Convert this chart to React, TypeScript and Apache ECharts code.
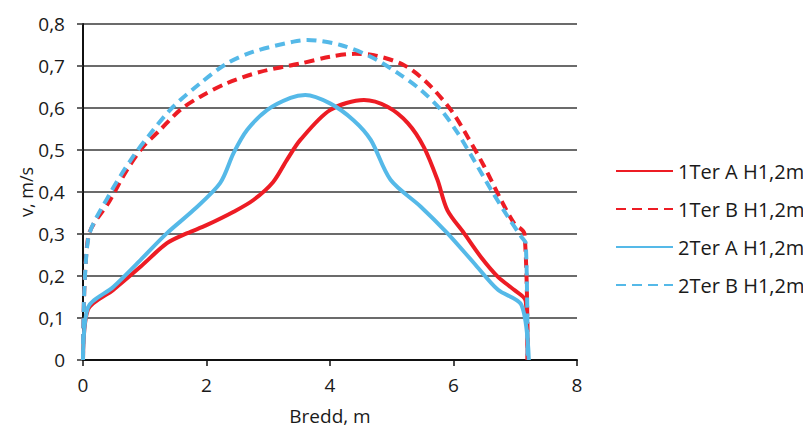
import React, { useEffect, useRef } from "react";
import * as echarts from "echarts";

const seriesNames = ["1Ter A H1,2m", "1Ter B H1,2m", "2Ter A H1,2m", "2Ter B H1,2m"];

const ter1AX = [0, 0.08, 0.49, 0.93, 1.36, 1.69, 2.0, 2.44, 2.76, 3.08, 3.3, 3.52, 4.0, 4.55, 4.93, 5.26, 5.52, 5.74, 5.9, 6.17, 6.44, 6.72, 6.98, 7.17, 7.2];
const ter1AY = [0, 0.12, 0.167, 0.222, 0.278, 0.302, 0.321, 0.353, 0.381, 0.424, 0.476, 0.524, 0.595, 0.619, 0.603, 0.564, 0.507, 0.429, 0.357, 0.302, 0.246, 0.198, 0.167, 0.14, 0];

const ter1BX = [0, 0.08, 0.44, 0.71, 0.97, 1.25, 1.57, 1.9, 2.33, 2.87, 3.52, 4.0, 4.4, 4.71, 5.2, 5.58, 5.96, 6.23, 6.5, 6.77, 6.98, 7.15, 7.2];
const ter1BY = [0, 0.29, 0.381, 0.452, 0.507, 0.548, 0.595, 0.627, 0.659, 0.686, 0.706, 0.722, 0.729, 0.726, 0.702, 0.659, 0.595, 0.531, 0.46, 0.381, 0.326, 0.3, 0];

const ter2AX = [0, 0.08, 0.49, 0.93, 1.36, 1.79, 2.22, 2.44, 2.66, 2.98, 3.36, 3.6, 4.0, 4.38, 4.66, 4.98, 5.47, 5.9, 6.33, 6.72, 7.1, 7.22];
const ter2AY = [0, 0.125, 0.174, 0.238, 0.302, 0.357, 0.421, 0.493, 0.548, 0.595, 0.624, 0.631, 0.611, 0.571, 0.524, 0.429, 0.365, 0.302, 0.231, 0.167, 0.131, 0];

const ter2BX = [0, 0.08, 0.44, 0.81, 1.14, 1.46, 1.9, 2.33, 2.76, 3.41, 3.63, 4.17, 4.66, 5.1, 5.47, 5.8, 6.07, 6.33, 6.61, 6.88, 7.1, 7.17, 7.2];
const ter2BY = [0, 0.285, 0.397, 0.484, 0.548, 0.603, 0.659, 0.706, 0.734, 0.758, 0.762, 0.75, 0.722, 0.683, 0.643, 0.595, 0.54, 0.476, 0.405, 0.341, 0.293, 0.278, 0];

const xTicks = [0, 2, 4, 6, 8];

const RED = "#ED1C24";
const BLUE = "#55B9E8";
const FONT = "Open Sans";
const TXT = "#1a1a1a";

const zip = (xs: number[], ys: number[]) => xs.map((x, i) => [x, ys[i]]);

export default function App() {
  const ref = useRef<HTMLDivElement>(null);
  useEffect(() => {
    if (!ref.current) return;
    const chart = echarts.init(ref.current, undefined, { renderer: "svg" });
    const mk = (name: string, data: number[][], color: string, dashed: boolean) => ({
      name,
      type: "line",
      data,
      smooth: 0.3,
      symbol: "none",
      lineStyle: { color, width: 4, type: dashed ? [10, 6] : "solid" },
      itemStyle: { color },
    });
    chart.setOption({
      animation: false,
      backgroundColor: "#ffffff",
      textStyle: { fontFamily: FONT },
      grid: { left: 75, right: 242, top: 16, bottom: 76, containLabel: false, outerBoundsMode: "none" },
      legend: {
        orient: "vertical",
        left: 602,
        top: 148,
        itemWidth: 57,
        itemHeight: 14,
        itemGap: 18,
        itemStyle: { opacity: 0 },
        textStyle: { fontFamily: FONT, fontSize: 20, color: TXT },
        data: seriesNames,
      },
      xAxis: {
        type: "value",
        min: 0,
        max: 8,
        interval: 2,
        name: "Bredd, m",
        nameLocation: "middle",
        nameGap: 46,
        nameMoveOverlap: false,
        nameTextStyle: { fontFamily: FONT, fontSize: 19, color: TXT },
        axisLine: { show: true, onZero: false, lineStyle: { color: "#111", width: 2 } },
        axisTick: { show: true, length: 6, lineStyle: { color: "#111", width: 1.5 } },
        axisLabel: {
          fontFamily: FONT,
          fontSize: 19,
          color: TXT,
          margin: 15,
          customValues: xTicks,
          formatter: (v: number) => String(v),
        },
        splitLine: { show: false },
      },
      yAxis: {
        type: "value",
        min: 0,
        max: 0.8,
        interval: 0.1,
        name: "v, m/s",
        nameLocation: "middle",
        nameGap: 48,
        nameMoveOverlap: false,
        nameTextStyle: { fontFamily: FONT, fontSize: 18, color: TXT },
        axisLine: { show: true, lineStyle: { color: "#111", width: 2 } },
        axisTick: { show: true, length: 6, lineStyle: { color: "#333", width: 1.5 } },
        axisLabel: {
          fontFamily: FONT,
          fontSize: 19,
          color: TXT,
          margin: 18,
          formatter: (v: number) => {
            const r = Math.round(v * 10) / 10;
            return r === 0 ? "0" : r.toFixed(1).replace(".", ",");
          },
        },
        splitLine: { show: true, lineStyle: { color: "#3a3a3a", width: 1.5 } },
      },
      series: [
        mk(seriesNames[0], zip(ter1AX, ter1AY), RED, false),
        mk(seriesNames[1], zip(ter1BX, ter1BY), RED, true),
        mk(seriesNames[2], zip(ter2AX, ter2AY), BLUE, false),
        mk(seriesNames[3], zip(ter2BX, ter2BY), BLUE, true),
      ],
    });
    return () => chart.dispose();
  }, []);
  return <div ref={ref} style={{ width: 811, height: 428 }} />;
}
